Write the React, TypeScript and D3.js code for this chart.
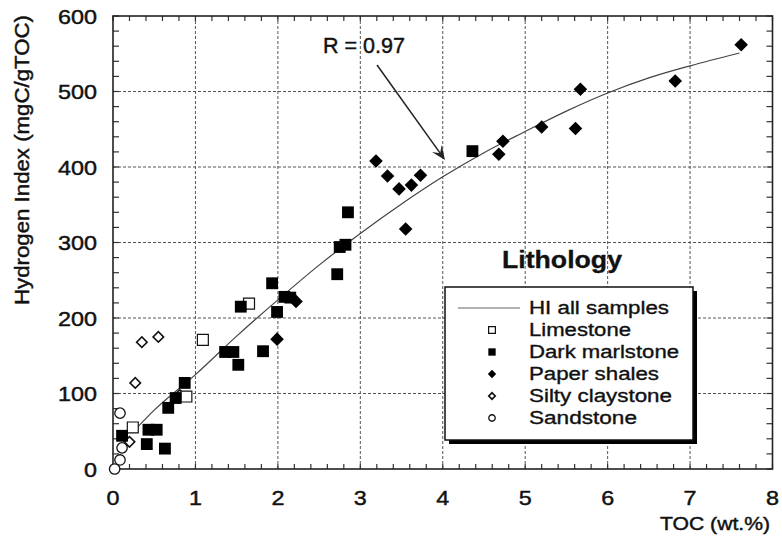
import React from "react";
import * as d3 from "d3";

// ---- data ----
const xTicks = [0, 1, 2, 3, 4, 5, 6, 7, 8];
const yTicks = [0, 100, 200, 300, 400, 500, 600];

const limestoneToc = [0.24, 0.89, 1.09, 1.65];
const limestoneHI = [55, 96, 171, 219];

const marlToc = [0.11, 0.41, 0.43, 0.53, 0.63, 0.67, 0.76, 0.87, 1.36, 1.46, 1.52, 1.55, 1.82, 1.93, 1.99, 2.08, 2.15, 2.72, 2.75, 2.82, 2.85, 4.36];
const marlHI = [44, 33, 52, 52, 27, 81, 94, 114, 155, 155, 138, 215, 156, 246, 208, 228, 227, 258, 294, 297, 340, 421];

const shaleToc = [1.99, 2.22, 3.19, 3.33, 3.47, 3.55, 3.62, 3.73, 4.68, 4.73, 5.2, 5.61, 5.67, 6.82, 7.62];
const shaleHI = [172, 222, 408, 388, 371, 318, 376, 389, 417, 434, 453, 451, 503, 514, 562];

const siltyToc = [0.35, 0.55, 0.27, 0.2, 0.81];
const siltyHI = [168, 175, 114, 36, 98];

const sandToc = [0.02, 0.085, 0.11, 0.085];
const sandHI = [0, 12, 28, 74];

const curveToc = [0.25, 0.5, 1, 1.5, 2, 2.5, 3, 3.5, 4, 4.5, 5, 5.5, 6, 6.5, 7, 7.6];
const curveHI = [50, 78, 125, 176, 224, 270, 312, 351, 387, 419, 447, 474, 498, 518, 534, 551];

const legendLabels = ["HI all samples", "Limestone", "Dark marlstone", "Paper shales", "Silty claystone", "Sandstone"];

// ---- layout ----
const W = 782;
const H = 538;
const L = 113, R = 772.5, T = 16, B = 469;
const FONT = "'Liberation Sans', Arial, Helvetica, sans-serif";
const TXT = { fill: "#111", stroke: "#111", strokeWidth: 0.45 };

const x = d3.scaleLinear().domain([0, 8]).range([L, R]);
const y = d3.scaleLinear().domain([0, 600]).range([B, T]);

const zip = (a: number[], b: number[]) => a.map((v, i) => [v, b[i]] as [number, number]);

const sq = (area: number) => d3.symbol(d3.symbolSquare, area)() as string;
const circ = (area: number) => d3.symbol(d3.symbolCircle, area)() as string;

function Marker({ kind, cx, cy, small }: { kind: string; cx: number; cy: number; small?: boolean }) {
  const k = small ? 0.62 : 1;
  if (kind === "limestone")
    return <path d={sq(120 * k * k)} transform={`translate(${cx},${cy})`} fill="white" stroke="#111" strokeWidth={1.2} />;
  if (kind === "marl")
    return <path d={sq(140 * k * k)} transform={`translate(${cx},${cy})`} fill="#000" />;
  if (kind === "shale")
    return <path d={sq(92 * k * k)} transform={`translate(${cx},${cy}) rotate(45)`} fill="#000" />;
  if (kind === "silty")
    return <path d={sq(55 * k * k)} transform={`translate(${cx},${cy}) rotate(45)`} fill="white" stroke="#111" strokeWidth={1.6} />;
  return <path d={circ(85 * k * k)} transform={`translate(${cx},${cy})`} fill="white" stroke="#111" strokeWidth={1.3} />;
}

export default function App() {
  const line = d3
    .line<[number, number]>()
    .x((d) => x(d[0]))
    .y((d) => y(d[1]))
    .curve(d3.curveMonotoneX);

  const xMinor = d3.range(0, 40 + 1).map((i) => i * 0.2);
  const yMinor = d3.range(0, 30 + 1).map((i) => i * 20);

  const series: { kind: string; pts: [number, number][] }[] = [
    { kind: "sand", pts: zip(sandToc, sandHI) },
    { kind: "silty", pts: zip(siltyToc, siltyHI) },
    { kind: "limestone", pts: zip(limestoneToc, limestoneHI) },
    { kind: "marl", pts: zip(marlToc, marlHI) },
    { kind: "shale", pts: zip(shaleToc, shaleHI) },
  ];

  const legendKinds = ["line", "limestone", "marl", "shale", "silty", "sand"];
  const legendWidths = [140, 102, 150, 130, 143, 108];

  // arrow geometry
  const ax1 = 377, ay1 = 65, ax2 = 445, ay2 = 160;
  const ang = Math.atan2(ay2 - ay1, ax2 - ax1);
  const hl = 14, hw = 6;
  const bx = ax2 - hl * Math.cos(ang), by = ay2 - hl * Math.sin(ang);
  const nx = -Math.sin(ang), ny = Math.cos(ang);
  const notchX = ax2 - hl * 0.6 * Math.cos(ang), notchY = ay2 - hl * 0.6 * Math.sin(ang);

  return (
    <svg width={W} height={H} style={{ position: "absolute", left: 0, top: 0, background: "white" }} fontFamily={FONT}>
      <rect x={0} y={0} width={W} height={H} fill="white" />
      {/* grid */}
      {xTicks.slice(1, -1).map((t) => (
        <line key={"gx" + t} x1={x(t)} x2={x(t)} y1={T} y2={B} stroke="#555" strokeWidth={1} strokeDasharray="3,2" />
      ))}
      {yTicks.slice(1, -1).map((t) => (
        <line key={"gy" + t} x1={L} x2={R} y1={y(t)} y2={y(t)} stroke="#555" strokeWidth={1} strokeDasharray="3,2" />
      ))}
      {/* minor ticks */}
      {xMinor.map((t, i) => (
        <g key={"tx" + i}>
          <line x1={x(t)} x2={x(t)} y1={B} y2={B - 5} stroke="#333" strokeWidth={1.2} />
          <line x1={x(t)} x2={x(t)} y1={T} y2={T + 5} stroke="#333" strokeWidth={1.2} />
        </g>
      ))}
      {yMinor.map((t, i) => (
        <g key={"ty" + i}>
          <line x1={L} x2={L + 6} y1={y(t)} y2={y(t)} stroke="#333" strokeWidth={1.2} />
          <line x1={R} x2={R - 6} y1={y(t)} y2={y(t)} stroke="#333" strokeWidth={1.2} />
        </g>
      ))}
      {/* frame */}
      <rect x={L} y={T} width={R - L} height={B - T} fill="none" stroke="#222" strokeWidth={1.6} />

      {/* regression curve */}
      <path d={line(zip(curveToc, curveHI)) as string} fill="none" stroke="#444" strokeWidth={1.2} />

      {/* points */}
      {series.map((s) =>
        s.pts.map((p, i) => <Marker key={s.kind + i} kind={s.kind} cx={x(p[0])} cy={y(p[1])} />)
      )}

      {/* tick labels */}
      {xTicks.map((t) => (
        <text key={"xl" + t} x={x(t)} y={505} textAnchor="middle" fontSize={21} {...TXT}
          textLength={13} lengthAdjust="spacingAndGlyphs">{t}</text>
      ))}
      {yTicks.map((t) => {
        const s = String(t);
        return (
          <text key={"yl" + t} x={97} y={y(t) + 7.5} textAnchor="end" fontSize={21} {...TXT}
            textLength={13 * s.length} lengthAdjust="spacingAndGlyphs">{s}</text>
        );
      })}

      {/* axis titles */}
      <text x={660} y={530} fontSize={19} {...TXT} textLength={110} lengthAdjust="spacingAndGlyphs">TOC (wt.%)</text>
      <text transform={`translate(29,160) rotate(-90)`} textAnchor="middle" fontSize={20} {...TXT}
        textLength={290} lengthAdjust="spacingAndGlyphs">Hydrogen Index (mgC/gTOC)</text>

      {/* R annotation */}
      <text x={323} y={53} fontSize={22} {...TXT} textLength={82} lengthAdjust="spacingAndGlyphs">R = 0.97</text>
      <line x1={ax1} y1={ay1} x2={notchX} y2={notchY} stroke="#222" strokeWidth={1.5} />
      <path d={`M${ax2},${ay2} L${bx + nx * hw},${by + ny * hw} L${notchX},${notchY} L${bx - nx * hw},${by - ny * hw} Z`} fill="#222" />

      {/* legend */}
      <text x={562} y={268} textAnchor="middle" fontSize={23} fontWeight="bold" {...TXT} strokeWidth={0.3}
        textLength={120} lengthAdjust="spacingAndGlyphs">Lithology</text>
      <rect x={449} y={291} width={248} height={153} fill="#000" />
      <rect x={445} y={287} width={248} height={153} fill="white" stroke="#111" strokeWidth={1.5} />
      {legendLabels.map((lab, i) => {
        const base = 314 + i * 22;
        const kind = legendKinds[i];
        return (
          <g key={lab}>
            {kind === "line" ? (
              <line x1={458} x2={520} y1={base - 6} y2={base - 6} stroke="#666" strokeWidth={1.1} />
            ) : (
              <Marker kind={kind} cx={492} cy={base - 6} small />
            )}
            <text x={529} y={base} fontSize={18} {...TXT} strokeWidth={0.35} textLength={legendWidths[i]} lengthAdjust="spacingAndGlyphs">{lab}</text>
          </g>
        );
      })}
    </svg>
  );
}
